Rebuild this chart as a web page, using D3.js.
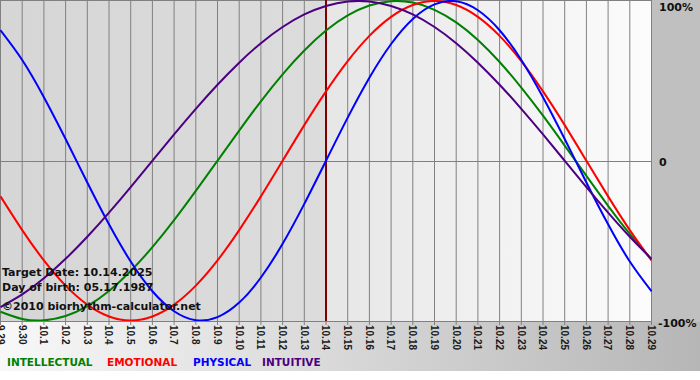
<!DOCTYPE html>
<html><head><meta charset="utf-8">
<script src="https://cdn.jsdelivr.net/npm/d3@7"></script>
<style>html,body{margin:0;padding:0;background:#fff}svg{display:block}</style>
</head><body>
<svg id="c" width="700" height="380"></svg>
<script>
const days = ["9.29","9.30","10.1","10.2","10.3","10.4","10.5","10.6","10.7","10.8","10.9","10.10","10.11","10.12","10.13","10.14","10.15","10.16","10.17","10.18","10.19","10.20","10.21","10.22","10.23","10.24","10.25","10.26","10.27","10.28","10.29"];
const targetDay = "10.14";
const intellectual = [-0.945,-0.990,-0.999,-0.972,-0.910,-0.815,-0.690,-0.541,-0.372,-0.189,0,0.189,0.372,0.541,0.690,0.815,0.910,0.972,0.999,0.990,0.945,0.866,0.756,0.618,0.458,0.282,0.095,-0.095,-0.282,-0.458,-0.618];
const emotional = [-0.223,-0.434,-0.624,-0.782,-0.901,-0.975,-1,-0.975,-0.901,-0.782,-0.624,-0.434,-0.223,0,0.223,0.434,0.624,0.782,0.901,0.975,1,0.975,0.901,0.782,0.624,0.434,0.223,0,-0.223,-0.434,-0.624];
const physical = [0.817,0.631,0.398,0.136,-0.136,-0.398,-0.631,-0.817,-0.942,-0.998,-0.979,-0.888,-0.731,-0.520,-0.270,0,0.270,0.520,0.731,0.888,0.979,0.998,0.942,0.817,0.631,0.398,0.136,-0.136,-0.398,-0.631,-0.817];
const intuitive = [-0.916,-0.837,-0.736,-0.614,-0.476,-0.325,-0.165,0,0.165,0.325,0.476,0.614,0.736,0.837,0.916,0.969,0.997,0.997,0.969,0.916,0.837,0.736,0.614,0.476,0.325,0.165,0,-0.165,-0.325,-0.476,-0.614];
const seriesNames = ["INTELLECTUAL","EMOTIONAL","PHYSICAL","INTUITIVE"];
const seriesColors = ["#008000","#ff0000","#0000ff","#4b0082"];
const yTicks = [1,0,-1];
const yTickLabels = ["100%","0","-100%"];
const infoLines = ["Target Date: 10.14.2025","Day of birth: 05.17.1987","\u00a92010 biorhythm-calculator.net"];

const svg = d3.select("#c");
const W = 700, plotR = 651, plotB = 321;
const x = d3.scalePoint().domain(days).range([0.5, plotR+0.5]);
const y = d3.scaleLinear().domain([-1,1]).range([320.5, 1]);

const defs = svg.append("defs");
function grad(id, stops){
  const g = defs.append("linearGradient").attr("id",id).attr("x1","0").attr("x2","1").attr("y1","0").attr("y2","0");
  stops.forEach(s=>g.append("stop").attr("offset",s[0]).attr("stop-color",s[1]));
}
grad("gBand",[[0,"#f8f8f8"],[1,"#b6b6b6"]]);
grad("gLeft",[[0,"#d6d6d6"],[1,"#dcdcdc"]]);
grad("gRight",[[0,"#e6e6e6"],[1,"#fcfcfc"]]);
defs.append("clipPath").attr("id","clip").append("rect").attr("x",0).attr("y",0).attr("width",plotR+1).attr("height",plotB);

// backgrounds
svg.append("rect").attr("x",0).attr("y",0).attr("width",W).attr("height",371).attr("fill","url(#gBand)");
svg.append("rect").attr("x",plotR).attr("y",0).attr("width",W-plotR).attr("height",plotB+1).attr("fill","#c0c0c0");
const xt = x(targetDay);
svg.append("rect").attr("x",0).attr("y",0).attr("width",xt).attr("height",plotB).attr("fill","url(#gLeft)");
svg.append("rect").attr("x",xt).attr("y",0).attr("width",plotR-xt+1).attr("height",plotB).attr("fill","url(#gRight)");

// grid lines
svg.append("g").selectAll("line").data(days).join("line")
  .attr("x1",d=>x(d)).attr("x2",d=>x(d)).attr("y1",0).attr("y2",plotB+4)
  .attr("stroke","#808080").attr("stroke-width",1);
svg.append("line").attr("x1",0).attr("x2",plotR+1).attr("y1",0.5).attr("y2",0.5).attr("stroke","#808080");
svg.append("line").attr("x1",0).attr("x2",plotR+1).attr("y1",Math.round(y(0))+0.5).attr("y2",Math.round(y(0))+0.5).attr("stroke","#808080");
svg.append("line").attr("x1",0).attr("x2",plotR+1).attr("y1",plotB+0.5).attr("y2",plotB+0.5).attr("stroke","#808080");

// target line
svg.append("line").attr("x1",xt).attr("x2",xt).attr("y1",0).attr("y2",plotB).attr("stroke","#800000").attr("stroke-width",2);

// curves
const line = d3.line().x((d,i)=>x(days[i])).y(d=>y(d)).curve(d3.curveNatural);
const gc = svg.append("g").attr("clip-path","url(#clip)");
[intellectual, emotional, physical, intuitive].forEach((s,k)=>{
  gc.append("path").attr("d",line(s)).attr("fill","none").attr("stroke",seriesColors[k]).attr("stroke-width",2);
});

// x labels
svg.append("g").selectAll("text").data(days).join("text")
  .attr("transform",d=>`translate(${x(d)},325) rotate(90)`)
  .attr("dy","0.36em").attr("text-anchor","start")
  .attr("font-family","Liberation Sans, Arial, sans-serif").attr("font-weight","bold").attr("font-size","10px")
  .attr("fill","#1a1a1a").text(d=>d);

// y labels
svg.append("g").selectAll("text").data(yTicks).join("text")
  .attr("x",(d,i)=> i===2 ? 658 : 659).attr("y",d=>y(d)+ (d===1?10:(d===0?5:6)))
  .attr("font-family","DejaVu Sans, Verdana, sans-serif").attr("font-weight","bold").attr("font-size","11px")
  .attr("fill","#111").text((d,i)=>yTickLabels[i]);

// info text
const infoY = [276,291,310];
svg.append("g").selectAll("text").data(infoLines).join("text")
  .attr("x",2).attr("y",(d,i)=>infoY[i])
  .attr("font-family","DejaVu Sans, Verdana, sans-serif").attr("font-weight","bold").attr("font-size","11px")
  .attr("fill","#111").text(d=>d);

// legend
const legX = [7,107,193,262];
svg.append("g").selectAll("text").data(seriesNames).join("text")
  .attr("x",(d,i)=>legX[i]).attr("y",366)
  .attr("font-family","DejaVu Sans, Verdana, sans-serif").attr("font-weight","bold").attr("font-size","10.5px")
  .attr("fill",(d,i)=>seriesColors[i]).text(d=>d);
</script>
</body></html>
